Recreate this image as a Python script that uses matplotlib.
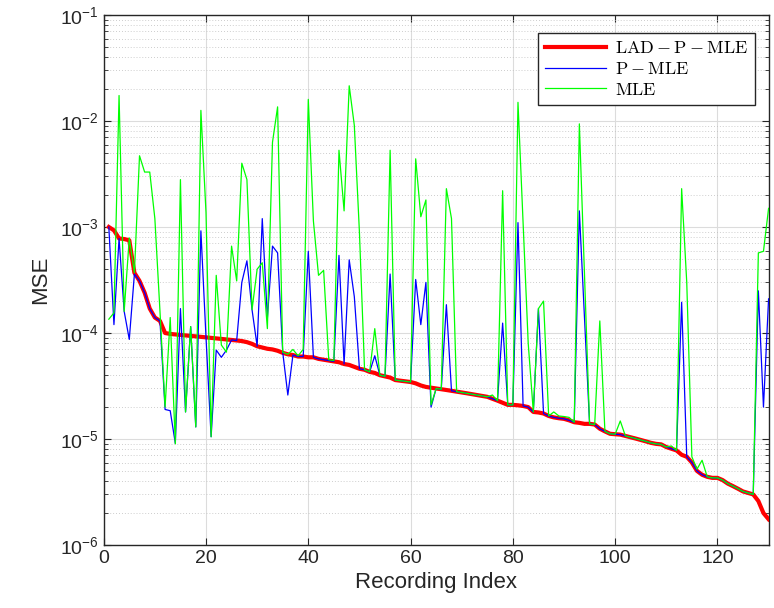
import numpy as np
import matplotlib
matplotlib.use('Agg')
import matplotlib.pyplot as plt
from matplotlib.font_manager import FontProperties
from matplotlib.ticker import LogLocator, NullFormatter

# recording index 1..130
recording_index = np.arange(1, 131)

# LAD - P - MLE (sorted, red thick)
lad_p_mle = [
    1.0e-3, 9.3e-4, 7.8e-4, 7.7e-4, 7.5e-4, 3.7e-4, 3.1e-4, 2.4e-4, 1.7e-4, 1.4e-4,
    1.3e-4, 1.0e-4, 9.8e-5, 9.7e-5, 9.6e-5, 9.5e-5, 9.4e-5, 9.3e-5, 9.2e-5, 9.1e-5,
    9.0e-5, 8.9e-5, 8.8e-5, 8.7e-5, 8.6e-5, 8.5e-5, 8.4e-5, 8.2e-5, 7.9e-5, 7.5e-5,
    7.3e-5, 7.1e-5, 7.0e-5, 6.8e-5, 6.5e-5, 6.3e-5, 6.2e-5, 6.0e-5, 6.0e-5, 5.9e-5,
    5.9e-5, 5.7e-5, 5.6e-5, 5.5e-5, 5.4e-5, 5.3e-5, 5.1e-5, 5.0e-5, 4.8e-5, 4.6e-5,
    4.5e-5, 4.3e-5, 4.2e-5, 4.0e-5, 3.9e-5, 3.8e-5, 3.6e-5, 3.55e-5, 3.5e-5, 3.45e-5,
    3.35e-5, 3.2e-5, 3.1e-5, 3.05e-5, 3.0e-5, 2.95e-5, 2.9e-5, 2.85e-5, 2.8e-5, 2.75e-5,
    2.7e-5, 2.65e-5, 2.6e-5, 2.55e-5, 2.5e-5, 2.4e-5, 2.3e-5, 2.2e-5, 2.1e-5, 2.1e-5,
    2.08e-5, 2.05e-5, 2.0e-5, 1.8e-5, 1.78e-5, 1.74e-5, 1.65e-5, 1.6e-5, 1.57e-5, 1.55e-5,
    1.5e-5, 1.44e-5, 1.42e-5, 1.39e-5, 1.39e-5, 1.37e-5, 1.25e-5, 1.18e-5, 1.12e-5, 1.11e-5,
    1.1e-5, 1.07e-5, 1.04e-5, 1.01e-5, 9.8e-6, 9.5e-6, 9.2e-6, 9.0e-6, 8.9e-6, 8.4e-6,
    8.1e-6, 7.8e-6, 7.1e-6, 6.8e-6, 6.0e-6, 5.0e-6, 4.6e-6, 4.4e-6, 4.3e-6, 4.3e-6,
    4.1e-6, 3.8e-6, 3.6e-6, 3.4e-6, 3.2e-6, 3.1e-6, 3.0e-6, 2.6e-6, 2.0e-6, 1.75e-6,
]

# P - MLE (blue)
p_mle = [
    1.0e-3, 1.2e-4, 7.8e-4, 1.6e-4, 8.7e-5, 3.6e-4, 3.1e-4, 2.4e-4, 1.7e-4, 1.4e-4,
    1.3e-4, 1.9e-5, 1.85e-5, 9.1e-6, 1.7e-4, 1.8e-5, 1.15e-4, 1.3e-5, 9.2e-4, 9.1e-5,
    1.05e-5, 6.9e-5, 5.9e-5, 6.9e-5, 8.6e-5, 8.5e-5, 3.0e-4, 4.8e-4, 1.66e-4, 7.5e-5,
    1.2e-3, 1.38e-4, 6.6e-4, 5.7e-4, 6.6e-5, 2.6e-5, 6.2e-5, 6.0e-5, 6.0e-5, 5.9e-4,
    5.9e-5, 5.7e-5, 5.6e-5, 5.5e-5, 5.4e-5, 5.4e-4, 5.1e-5, 4.9e-4, 2.2e-4, 4.6e-5,
    4.5e-5, 4.3e-5, 6.1e-5, 4.0e-5, 3.9e-5, 3.6e-4, 3.6e-5, 3.55e-5, 3.5e-5, 3.45e-5,
    3.2e-4, 1.2e-4, 3.0e-4, 2.0e-5, 3.0e-5, 2.95e-5, 1.85e-4, 2.85e-5, 2.8e-5, 2.75e-5,
    2.7e-5, 2.65e-5, 2.6e-5, 2.55e-5, 2.5e-5, 2.4e-5, 2.3e-5, 1.24e-4, 2.1e-5, 2.1e-5,
    1.1e-3, 2.05e-5, 2.0e-5, 1.8e-5, 1.7e-4, 1.74e-5, 1.65e-5, 1.6e-5, 1.57e-5, 1.55e-5,
    1.5e-5, 1.44e-5, 1.42e-3, 1.4e-4, 1.39e-5, 1.37e-5, 1.25e-5, 1.18e-5, 1.12e-5, 1.11e-5,
    1.1e-5, 1.07e-5, 1.04e-5, 1.01e-5, 9.8e-6, 9.5e-6, 9.2e-6, 9.0e-6, 8.9e-6, 8.4e-6,
    8.1e-6, 7.8e-6, 1.95e-4, 6.8e-6, 6.0e-6, 5.0e-6, 4.6e-6, 4.4e-6, 4.3e-6, 4.3e-6,
    4.1e-6, 3.8e-6, 3.6e-6, 3.4e-6, 3.2e-6, 3.1e-6, 3.0e-6, 2.5e-4, 2.0e-5, 2.1e-4,
]

# MLE (green)
mle = [
    1.35e-4, 1.55e-4, 1.74e-2, 1.6e-4, 7.9e-4, 3.7e-4, 4.7e-3, 3.3e-3, 3.3e-3, 1.2e-3,
    1.6e-4, 2.0e-5, 1.4e-4, 9.0e-6, 2.8e-3, 1.8e-5, 1.15e-4, 1.3e-5, 1.26e-2, 1.37e-3,
    1.05e-5, 3.5e-4, 7.7e-5, 6.6e-5, 6.6e-4, 3.1e-4, 4.0e-3, 2.8e-3, 1.66e-4, 4.0e-4,
    4.6e-4, 1.1e-4, 6.3e-3, 1.36e-2, 6.6e-5, 6.3e-5, 7.0e-5, 6.1e-5, 7.0e-5, 1.6e-2,
    1.14e-3, 3.5e-4, 3.9e-4, 5.6e-5, 5.5e-5, 5.3e-3, 1.42e-3, 2.15e-2, 9.1e-3, 8.9e-4,
    4.5e-5, 4.3e-5, 1.1e-4, 4.0e-5, 3.9e-5, 5.3e-3, 3.6e-5, 3.55e-5, 3.5e-5, 3.45e-5,
    4.4e-3, 1.25e-3, 1.8e-3, 2.1e-5, 3.0e-5, 2.95e-5, 2.3e-3, 1.2e-3, 2.8e-5, 2.75e-5,
    2.7e-5, 2.65e-5, 2.6e-5, 2.55e-5, 2.5e-5, 2.6e-5, 2.3e-5, 2.2e-3, 2.1e-5, 2.1e-5,
    1.5e-2, 1.1e-3, 8.0e-5, 1.8e-5, 1.7e-4, 2.0e-4, 1.65e-5, 1.8e-5, 1.65e-5, 1.63e-5,
    1.6e-5, 1.44e-5, 9.4e-3, 3.6e-4, 1.39e-5, 1.37e-5, 1.3e-4, 1.18e-5, 1.12e-5, 1.11e-5,
    1.48e-5, 1.07e-5, 1.04e-5, 1.01e-5, 9.8e-6, 9.5e-6, 9.2e-6, 9.0e-6, 8.9e-6, 8.4e-6,
    8.6e-6, 7.8e-6, 2.3e-3, 3.0e-4, 6.8e-6, 5.2e-6, 6.3e-6, 4.4e-6, 4.3e-6, 4.3e-6,
    4.1e-6, 3.8e-6, 3.6e-6, 3.4e-6, 3.2e-6, 3.1e-6, 3.0e-6, 5.7e-4, 5.9e-4, 1.5e-3,
]

series_labels = [r'$\mathrm{LAD-P-MLE}$', r'$\mathrm{P-MLE}$', r'$\mathrm{MLE}$']

plt.rcParams['font.family'] = ['Liberation Sans Narrow', 'Liberation Sans', 'DejaVu Sans']
plt.rcParams['mathtext.fontset'] = 'custom'
plt.rcParams['mathtext.rm'] = 'Liberation Sans'
plt.rcParams['mathtext.default'] = 'regular'

axis_grey = '#262626'

fig = plt.figure(figsize=(7.74, 6.08), dpi=100)
ax = fig.add_axes([0.134, 0.1036, 0.859, 0.8717])

ax.plot(recording_index, lad_p_mle, color='#ff0000', lw=3.0, label=series_labels[0], zorder=3)
ax.plot(recording_index, p_mle, color='#0000ff', lw=0.9, label=series_labels[1], zorder=4)
ax.plot(recording_index, mle, color='#00ff00', lw=0.9, label=series_labels[2], zorder=5)

ax.set_yscale('log')
ax.set_xlim(0, 130)
ax.set_ylim(1e-6, 1e-1)
ax.set_xticks([0, 20, 40, 60, 80, 100, 120])
ax.yaxis.set_major_locator(LogLocator(base=10, numticks=10))
ax.yaxis.set_minor_locator(LogLocator(base=10, subs=np.arange(2, 10), numticks=20))
ax.yaxis.set_minor_formatter(NullFormatter())

ax.grid(True, which='major', color='#dcdcdc', lw=0.8, ls='-', zorder=0)
ax.grid(True, which='minor', axis='y', color='#bdbdbd', lw=0.6, ls=(0, (1, 2.5)), zorder=0)
ax.set_axisbelow(True)

ax.tick_params(which='both', direction='in', top=True, right=True, colors=axis_grey,
               labelcolor=axis_grey, labelsize=14)
ax.tick_params(which='major', length=5, width=0.8)
ax.tick_params(which='minor', length=3, width=0.6)
for s in ax.spines.values():
    s.set_color(axis_grey)
    s.set_linewidth(1.0)

ax.set_xlabel('Recording Index', fontsize=16, color=axis_grey, labelpad=4)
ax.set_ylabel('MSE', fontsize=16, color=axis_grey, labelpad=6)

leg_font = FontProperties(family='DejaVu Serif', size=13, math_fontfamily='cm')
leg = ax.legend(loc='upper right', bbox_to_anchor=(0.979, 0.966), prop=leg_font,
                frameon=True, fancybox=False, framealpha=1, edgecolor=axis_grey,
                handlelength=3.4, handletextpad=0.5, borderpad=0.35, labelspacing=0.15,
                borderaxespad=0)
leg.get_frame().set_linewidth(1.0)

fig.savefig('out.png', dpi=100)
